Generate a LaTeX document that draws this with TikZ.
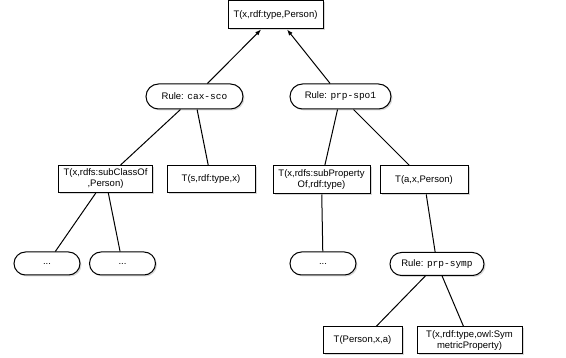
\documentclass[tikz,border=0pt]{standalone}
\usepackage{fontspec}
\setmainfont{Liberation Sans}
\setmonofont{Liberation Mono}
\usetikzlibrary{arrows.meta,shapes.misc,shadows}

\begin{document}
\begin{tikzpicture}[x=1pt,y=-1pt,line width=1pt,
    factbox/.style={draw,fill=white,inner sep=0pt,align=center,
        font=\fontsize{9.5}{11}\selectfont,
        drop shadow={shadow xshift=1.5pt,shadow yshift=-1.5pt,fill=black!30}},
    rulebox/.style={factbox,rounded rectangle}]
    \useasboundingbox (0,0) rectangle (566,358);

    \node[factbox,minimum width=95,minimum height=28](top) at(275.5,15){T(x,rdf:type,Person)};

    \node[rulebox,minimum width=97,minimum height=25](cax) at(194.5,96.5){Rule: \texttt{cax-sco}};
    \node[rulebox,minimum width=101,minimum height=25](spo) at(340.5,96.5){Rule: \texttt{prp-spo1}};

    \node[factbox,minimum width=94,minimum height=27](subcls) at(105.5,179){T(x,rdfs:subClassOf\\,Person)};
    \node[factbox,minimum width=88,minimum height=27](stype) at(211,179){T(s,rdf:type,x)};
    \node[factbox,minimum width=97,minimum height=28](subprop) at(321.5,180){T(x,rdfs:subProperty\\Of,rdf:type)};
    \node[factbox,minimum width=88,minimum height=28](axp) at(424,180){T(a,x,Person)};

    \node[rulebox,minimum width=66,minimum height=23](dotsa) at(47,263.5){...};
    \node[rulebox,minimum width=66,minimum height=23](dotsb) at(122.5,263.5){...};
    \node[rulebox,minimum width=66,minimum height=23](dotsc) at(323,263.5){...};
    \node[rulebox,minimum width=94,minimum height=23](symp) at(437,264){Rule: \texttt{prp-symp}};

    \node[factbox,minimum width=79,minimum height=27](pxa) at(362.5,340.5){T(Person,x,a)};
    \node[factbox,minimum width=105,minimum height=27](symprop) at(469.5,340.5){T(x,rdf:type,owl:Sym\\metricProperty)};

    \draw[-{Latex[length=6pt,width=4.5pt]}](cax)--(top);
    \draw[-{Latex[length=6pt,width=4.5pt]}](spo)--(top);

    \draw(cax)--(subcls);
    \draw(cax)--(stype);
    \draw(spo)--(subprop);
    \draw(spo)--(axp);

    \draw(subcls)--(dotsa);
    \draw(subcls)--(dotsb);
    \draw(subprop)--(dotsc);
    \draw(axp)--(symp);

    \draw(symp)--(pxa);
    \draw(symp)--(symprop);
\end{tikzpicture}
\end{document}
